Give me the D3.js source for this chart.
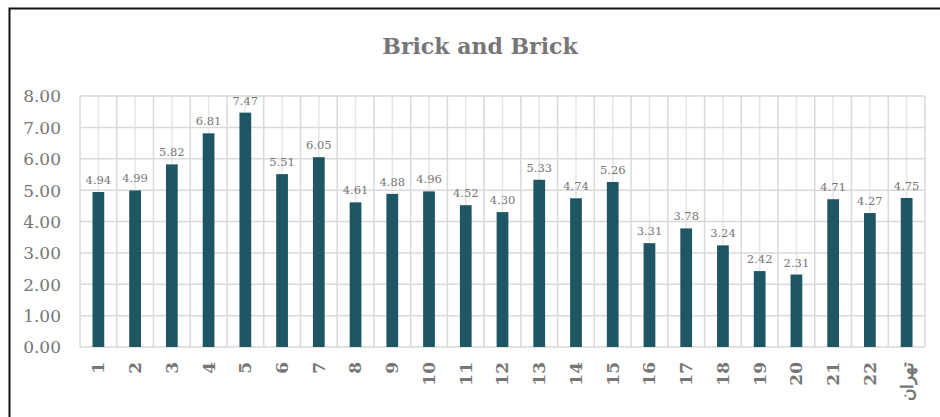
<!DOCTYPE html>
<html>
<head>
<meta charset="utf-8">
<script src="https://cdn.jsdelivr.net/npm/d3@7"></script>
<style>
  body { margin: 0; background: #fff; }
  text { font-family: "DejaVu Serif", "Liberation Serif", serif; fill: #767676; }
</style>
</head>
<body>
<script>
var categories = ["1","2","3","4","5","6","7","8","9","10","11","12","13","14","15","16","17","18","19","20","21","22","تهران"];
var values = [4.94,4.99,5.82,6.81,7.47,5.51,6.05,4.61,4.88,4.96,4.52,4.30,5.33,4.74,5.26,3.31,3.78,3.24,2.42,2.31,4.71,4.27,4.75];
var yTicks = [0,1,2,3,4,5,6,7,8];

var W = 940, H = 417;
var m = { t: 96, r: 15, b: 70, l: 80 },
  width = W - m.l - m.r,
  height = 347 - m.t;

var svg = d3.select("body").append("svg")
  .attr("width", W)
  .attr("height", H);

// chart frame
svg.append("path")
  .attr("d", "M9.5," + H + "V8.5H" + W)
  .attr("fill", "none")
  .attr("stroke", "#111")
  .attr("stroke-width", 2);

svg.append("text")
  .attr("x", 480)
  .attr("y", 54)
  .attr("text-anchor", "middle")
  .style("font-size", "22px")
  .style("font-weight", "bold")
  .text("Brick and Brick");

var g = svg.append("g").attr("transform", "translate(" + m.l + "," + m.t + ")");

var x = d3.scaleBand().domain(categories).range([0, width]).paddingInner(0.68).paddingOuter(0.34);
var y = d3.scaleLinear().domain([0, 8]).range([height, 0]);
var step = x.step();

// minor vertical gridlines (category centres)
g.selectAll(".vminor")
  .data(categories)
  .enter().append("line")
  .attr("x1", function(d) { return x(d) + x.bandwidth() / 2; })
  .attr("x2", function(d) { return x(d) + x.bandwidth() / 2; })
  .attr("y1", 0).attr("y2", height)
  .attr("stroke", "#e6e6e6").attr("stroke-width", 1.5);

// major vertical gridlines (category boundaries)
g.selectAll(".vmajor")
  .data(d3.range(categories.length + 1))
  .enter().append("line")
  .attr("x1", function(i) { return i * step; })
  .attr("x2", function(i) { return i * step; })
  .attr("y1", 0).attr("y2", height)
  .attr("stroke", "#d9d9d9").attr("stroke-width", 1.5);

// horizontal gridlines
g.selectAll(".hgrid")
  .data(yTicks)
  .enter().append("line")
  .attr("x1", 0).attr("x2", width)
  .attr("y1", function(d) { return y(d); })
  .attr("y2", function(d) { return y(d); })
  .attr("stroke", "#d9d9d9").attr("stroke-width", 1.5);

var yAxis = d3.axisLeft(y).tickValues(yTicks).tickFormat(d3.format(".2f")).tickSize(0).tickPadding(19);
g.append("g").call(yAxis)
  .call(function(a) { a.select(".domain").remove(); })
  .selectAll("text")
  .style("font-size", "17px")
  .attr("dy", "0.35em");

g.selectAll(".bar")
  .data(values)
  .enter().append("rect")
  .attr("x", function(d, i) { return x(categories[i]); })
  .attr("width", x.bandwidth())
  .attr("y", function(d) { return y(d); })
  .attr("height", function(d) { return height - y(d); })
  .attr("fill", "#1f5664");

g.selectAll(".lbl")
  .data(values)
  .enter().append("text")
  .attr("x", function(d, i) { return x(categories[i]) + x.bandwidth() / 2; })
  .attr("y", function(d) { return y(d) - 8; })
  .attr("text-anchor", "middle")
  .style("font-size", "11.5px")
  .text(function(d) { return d.toFixed(2); });

var xAxis = d3.axisBottom(x).tickSize(0).tickPadding(0);
g.append("g")
  .attr("transform", "translate(0," + height + ")")
  .call(xAxis)
  .call(function(a) { a.select(".domain").remove(); })
  .selectAll("text")
  .attr("transform", "rotate(-90)")
  .attr("x", -15)
  .attr("y", 0)
  .attr("dy", "0.35em")
  .style("text-anchor", "end")
  .style("font-size", "17px")
  .style("font-weight", "bold");
</script>
</body>
</html>
